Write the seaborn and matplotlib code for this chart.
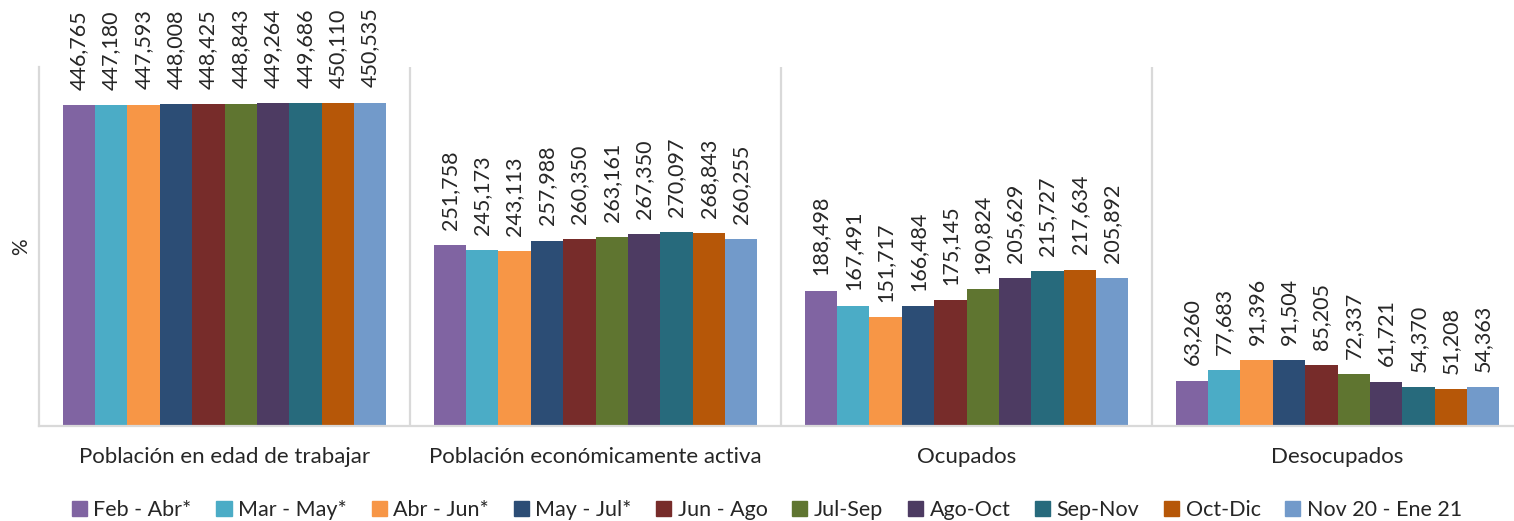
import matplotlib
matplotlib.use('Agg')
import numpy as np
import pandas as pd
import matplotlib.pyplot as plt
import seaborn as sns

sns.set_theme(style="white")
plt.rcParams['font.family'] = ['Lato', 'DejaVu Sans']

# ==========================================
# Data
# ==========================================
categories = ["Población en edad de trabajar", "Población económicamente activa",
              "Ocupados", "Desocupados"]
periods = ["Feb - Abr*", "Mar - May*", "Abr - Jun*", "May - Jul*", "Jun - Ago",
           "Jul-Sep", "Ago-Oct", "Sep-Nov", "Oct-Dic", "Nov 20 - Ene 21"]
pet = [446765, 447180, 447593, 448008, 448425, 448843, 449264, 449686, 450110, 450535]
pea = [251758, 245173, 243113, 257988, 260350, 263161, 267350, 270097, 268843, 260255]
ocupados = [188498, 167491, 151717, 166484, 175145, 190824, 205629, 215727, 217634, 205892]
desocupados = [63260, 77683, 91396, 91504, 85205, 72337, 61721, 54370, 51208, 54363]
colors = ["#8064A2", "#4BACC6", "#F79646", "#2C4D75", "#772C2A",
          "#5F7530", "#4D3B62", "#276A7C", "#B65708", "#729ACA"]

rows = []
for cat, vals in zip(categories, [pet, pea, ocupados, desocupados]):
    for per, v in zip(periods, vals):
        rows.append({"categoria": cat, "periodo": per, "valor": v})
df = pd.DataFrame(rows)

# ==========================================
# Plot
# ==========================================
fig = plt.figure(figsize=(15.14, 5.21), dpi=100)
ax = fig.add_axes([39 / 1514, (521 - 426) / 521, 1484 / 1514, (426 - 67) / 521])

sns.barplot(data=df, x="categoria", y="valor", hue="periodo", order=categories,
            hue_order=periods, palette=colors, saturation=1, width=0.873,
            errorbar=None, ax=ax, legend=False, linewidth=0)

for container in ax.containers:
    ax.bar_label(container, labels=[f"{v:,.0f}" for v in container.datavalues],
                 rotation=90, padding=11, fontsize=15.5)

ax.set_ylim(0, 500000)
ax.set_xlim(-0.5, 3.5)
ax.set_yticks([])
ax.set_xlabel("")
ax.set_ylabel("%", fontsize=15, labelpad=6)
ax.tick_params(axis='x', length=0, pad=15, labelsize=16)

# separators between groups
for x in [0.5, 1.5, 2.5]:
    ax.axvline(x, color="#d9d9d9", linewidth=1.6)
for s in ["top", "right"]:
    ax.spines[s].set_visible(False)
for s in ["left", "bottom"]:
    ax.spines[s].set_color("#d9d9d9")
    ax.spines[s].set_linewidth(1.6)

handles = [plt.Rectangle((0, 0), 1, 1, color=c) for c in colors]
fig.legend(handles, periods, loc="center", bbox_to_anchor=(767 / 1514, 0.021), ncol=10,
           frameon=False, fontsize=15.5, handlelength=0.7, handleheight=0.7,
           handletextpad=0.3, columnspacing=1.15)

fig.savefig("out.png", dpi=100)
